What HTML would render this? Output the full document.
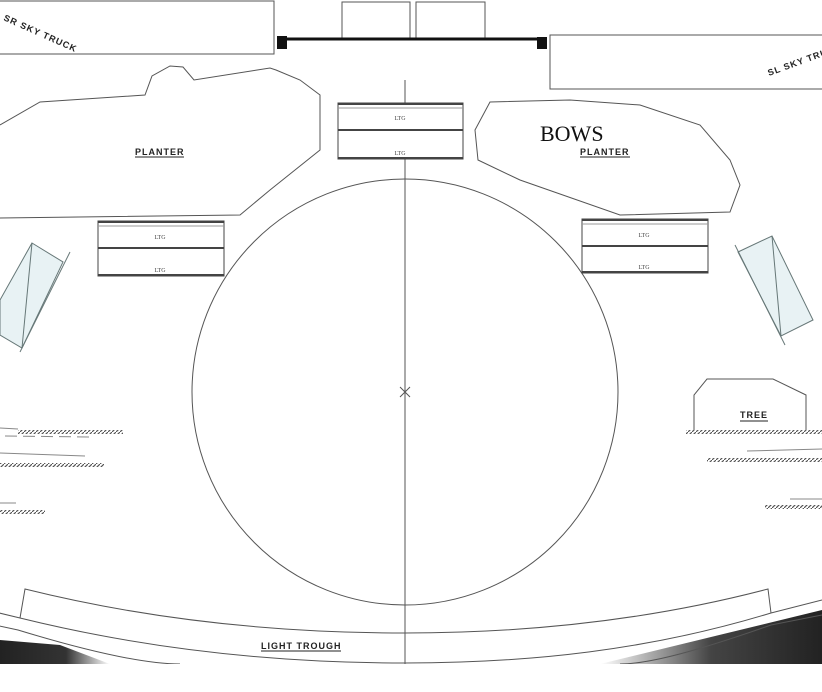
<!DOCTYPE html>
<html><head><style>
html,body{margin:0;padding:0;background:#fff;}
svg{display:block;}
</style></head><body>
<svg width="822" height="692" viewBox="0 0 822 692" xmlns="http://www.w3.org/2000/svg" style="font-family:'Liberation Sans',sans-serif">
<defs>
<pattern id="hatch" width="4" height="4" patternUnits="userSpaceOnUse"><rect width="4" height="4" fill="#fff"/><path d="M0 4L4 0" stroke="#555" stroke-width="1.2"/></pattern>
<linearGradient id="gl" x1="0" y1="0" x2="1" y2="0"><stop offset="0" stop-color="#222"/><stop offset="0.6" stop-color="#333"/><stop offset="1" stop-color="#fff"/></linearGradient>
<linearGradient id="gr" x1="0" y1="0" x2="1" y2="0"><stop offset="0" stop-color="#fff"/><stop offset="0.5" stop-color="#444"/><stop offset="1" stop-color="#222"/></linearGradient>
</defs>
<path d="M0 640 L60 645 L110 664 L0 664Z" fill="url(#gl)"/>
<path d="M600 664 L822 610 L822 664Z" fill="url(#gr)"/>
<g fill="none" stroke="#555" stroke-width="1">
<rect x="-2" y="1" width="276" height="53"/>
<rect x="550" y="35" width="280" height="54"/>
<rect x="342" y="2" width="68" height="37"/>
<rect x="416" y="2" width="69" height="37"/>
<line x1="287" y1="39" x2="537" y2="39" stroke="#111" stroke-width="3"/>
<path d="M0 125 L40 102 L145 95 L152 76 L170 66 L183 67 L194 80 L270 68 L276 70 L300 80 L320 95 L320 150 L270 190 L240 215 L0 218"/>
<path d="M490 102 L570 100 L640 105 L700 125 L730 160 L740 185 L730 212 L620 215 L520 180 L478 160 L475 130 Z"/>
<circle cx="405" cy="392" r="213"/>
<line x1="405" y1="80" x2="405" y2="664"/>
<path d="M400 387L410 397M410 387L400 397"/>
<path d="M694 430 L694 395 L707 379 L773 379 L806 395 L806 430"/>
<path d="M20 618 L25 589 C150 620 280 633 405 633 C530 633 650 620 768 589 L771 613"/>
<path d="M-5 612 L20 618 C150 650 280 663 405 663 C530 663 650 650 771 613 L822 600"/>
<path d="M-5 625 L18 630 C100 655 150 664 180 664"/>
<path d="M822 615 L771 625 C700 650 650 664 620 664"/>
</g>
<g fill="#fff" stroke="#444">
<rect x="338" y="103" width="125" height="56"/>
<rect x="98" y="221" width="126" height="55"/>
<rect x="582" y="219" width="126" height="54"/>
</g>
<g stroke="#444" stroke-width="2">
<line x1="338" y1="104" x2="463" y2="104"/><line x1="338" y1="130" x2="463" y2="130"/><line x1="338" y1="158" x2="463" y2="158"/>
<line x1="98" y1="222" x2="224" y2="222"/><line x1="98" y1="248" x2="224" y2="248"/><line x1="98" y1="275" x2="224" y2="275"/>
<line x1="582" y1="220" x2="708" y2="220"/><line x1="582" y1="246" x2="708" y2="246"/><line x1="582" y1="272" x2="708" y2="272"/>
</g>
<g stroke="#999" stroke-width="1">
<line x1="338" y1="108" x2="463" y2="108"/><line x1="98" y1="226" x2="224" y2="226"/><line x1="582" y1="224" x2="708" y2="224"/>
</g>
<g font-size="6" fill="#444" text-anchor="middle" style="font-family:'Liberation Serif',serif">
<text x="400" y="120">LTG</text><text x="400" y="155">LTG</text>
<text x="160" y="239">LTG</text><text x="160" y="272">LTG</text>
<text x="644" y="237">LTG</text><text x="644" y="269">LTG</text>
</g>
<rect x="277" y="36" width="10" height="13" fill="#111"/>
<rect x="537" y="37" width="10" height="12" fill="#111"/>
<polygon points="32,243 63,262 22,348 0,335 0,300" fill="#e8f2f4" stroke="#677"/>
<line x1="70" y1="252" x2="20" y2="352" stroke="#677"/>
<line x1="32" y1="243" x2="22" y2="348" stroke="#677"/>
<polygon points="738,252 772,236 813,320 781,336" fill="#e8f2f4" stroke="#677"/>
<line x1="735" y1="245" x2="785" y2="345" stroke="#677"/>
<line x1="772" y1="236" x2="781" y2="336" stroke="#677"/>
<g fill="url(#hatch)">
<rect x="18" y="430" width="105" height="4"/><rect x="0" y="463" width="104" height="4"/><rect x="0" y="510" width="45" height="4"/>
<rect x="686" y="430" width="136" height="4"/><rect x="707" y="458" width="115" height="4"/><rect x="765" y="505" width="57" height="4"/>
</g>
<g stroke="#888" stroke-width="1"><line x1="0" y1="453" x2="85" y2="456"/><line x1="0" y1="428" x2="18" y2="429"/><line x1="0" y1="503" x2="16" y2="503"/>
<line x1="747" y1="451" x2="822" y2="449"/><line x1="790" y1="499" x2="822" y2="499"/>
<line x1="5" y1="436" x2="90" y2="437" stroke-dasharray="12 6"/></g>
<g font-size="9" fill="#222" font-weight="bold" letter-spacing="1">
<text x="135" y="155">PLANTER</text><line x1="135" y1="157" x2="184" y2="157" stroke="#222"/>
<text x="580" y="155">PLANTER</text><line x1="580" y1="157" x2="630" y2="157" stroke="#222"/>
<text x="740" y="418">TREE</text><line x1="740" y1="421" x2="768" y2="421" stroke="#222"/>
<text x="261" y="649">LIGHT TROUGH</text><line x1="261" y1="651" x2="341" y2="651" stroke="#222"/>
<text transform="translate(3,20) rotate(24)">SR SKY TRUCK</text>
<text transform="translate(769,76) rotate(-20)">SL SKY TRUCK</text>
</g>
<text x="540" y="141" style="font-family:'Liberation Serif',serif" font-size="22" fill="#111">BOWS</text>
<rect x="0" y="664" width="822" height="28" fill="#fff"/>
</svg>
</body></html>
